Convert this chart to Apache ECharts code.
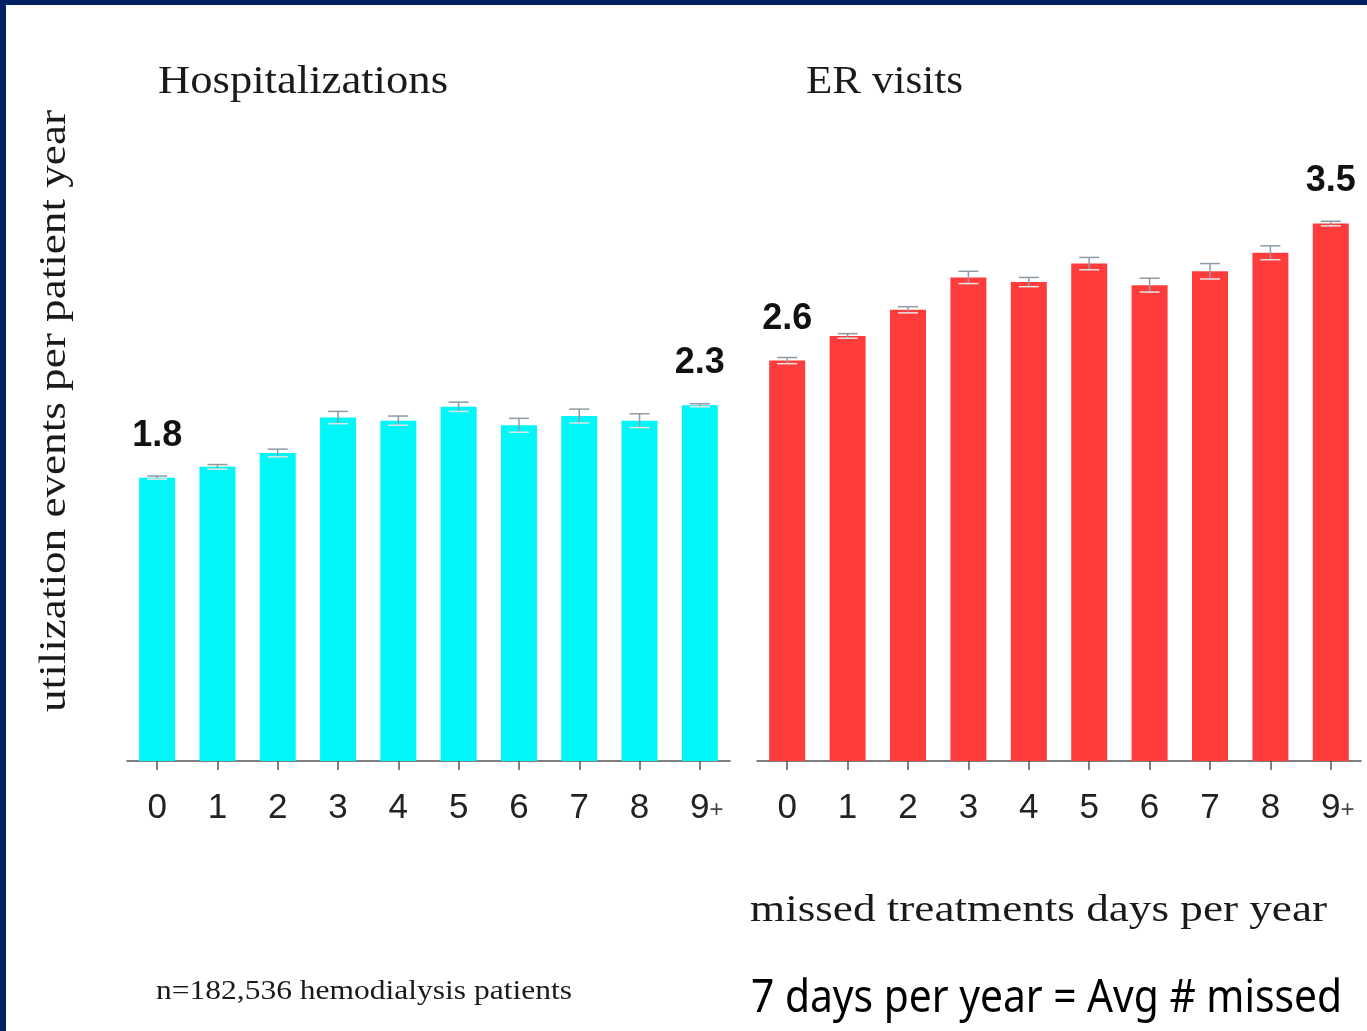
<!DOCTYPE html>
<html>
<head>
<meta charset="utf-8">
<title>Missed treatments and utilization</title>
<script src="https://cdn.jsdelivr.net/npm/echarts@6/dist/echarts.min.js"></script>
<style>
  html, body { margin: 0; padding: 0; background: #fff; }
  #chart { position: absolute; left: 0; top: 0; width: 1367px; height: 1031px; }
  .frame-top { position: absolute; left: 0; top: 0; width: 1367px; height: 5px; background: #022163; }
  .frame-left { position: absolute; left: 0; top: 0; width: 6px; height: 1031px; background: #022163; }
</style>
</head>
<body>
<div id="chart"></div>
<div class="frame-top"></div>
<div class="frame-left"></div>
<script>
// missed treatment days per year
const categories = ['0', '1', '2', '3', '4', '5', '6', '7', '8', '9+']

// events per patient year
const hospValues = [1.84, 1.91, 2.00, 2.23, 2.21, 2.30, 2.18, 2.24, 2.21, 2.31]
const hospErrors = [0.01, 0.015, 0.025, 0.04, 0.03, 0.03, 0.045, 0.045, 0.045, 0.01]
const erValues = [2.60, 2.76, 2.93, 3.14, 3.11, 3.23, 3.09, 3.18, 3.30, 3.49]
const erErrors = [0.02, 0.015, 0.02, 0.04, 0.03, 0.04, 0.045, 0.05, 0.045, 0.015]

// only first and last bar get a value label
const labelledBars = [0, 9]

const chart = echarts.init(document.getElementById('chart'))

// measure text so serif captions can be stretched to the reference width
const ctx = document.createElement('canvas').getContext('2d')
const fitScale = (text, size, family, weight, target) => {
  ctx.font = `${weight} ${size}px ${family}`
  return target / ctx.measureText(text).width
}

const SERIF = 'Liberation Serif'

const serifText = (text, x, y, size, target, extra = {}) => ({
  type: 'text',
  x, y,
  scaleX: fitScale(text, size, SERIF, 'normal', target),
  style: {
    text,
    fontFamily: SERIF,
    fontSize: size,
    fill: '#1a1a1a',
    textAlign: 'left',
    textVerticalAlign: 'middle'
  },
  ...extra
})

const barData = (values) => values.map((v, i) =>
  labelledBars.includes(i) ? { value: v, label: { show: true } } : v
)

const errData = (values, errs) => values.map((v, i) => [i, v, errs[i]])

const renderError = (params, api) => {
  const idx = api.value(0)
  const v = api.value(1)
  const e = api.value(2)
  const hi = api.coord([idx, v + e])
  const lo = api.coord([idx, v - e])
  const hw = 10
  const style = { stroke: '#8f9aa3', lineWidth: 1.5 }
  return {
    type: 'group',
    children: [
      { type: 'line', shape: { x1: hi[0], y1: hi[1], x2: lo[0], y2: lo[1] }, style },
      { type: 'line', shape: { x1: hi[0] - hw, y1: hi[1], x2: hi[0] + hw, y2: hi[1] }, style },
      { type: 'line', shape: { x1: lo[0] - hw, y1: lo[1], x2: lo[0] + hw, y2: lo[1] }, style: { stroke: '#e3e3e3', lineWidth: 1.5 } }
    ]
  }
}

const xAxisBase = (gridIndex) => ({
  type: 'category',
  gridIndex,
  data: categories,
  axisLine: { lineStyle: { color: '#555', width: 1.5 } },
  axisTick: { show: true, interval: 0, alignWithLabel: true, length: 9, lineStyle: { color: '#555', width: 1.5 } },
  axisLabel: {
    interval: 0,
    margin: 30,
    color: '#222',
    fontSize: 35,
    fontFamily: 'Liberation Sans',
    // keep the 9 on its tick, the small plus hangs to the right
    formatter: (val) => val === '9+' ? '{n|9}{p|+}' : val,
    rich: {
      n: { fontSize: 35, fontFamily: 'Liberation Sans', color: '#222', padding: [0, 0, 0, 14] },
      p: { fontSize: 24, fontFamily: 'Liberation Sans', color: '#444', padding: [4, 0, 0, 0] }
    }
  }
})

const yAxisBase = (gridIndex) => ({
  type: 'value',
  gridIndex,
  min: 0,
  max: 4,
  show: false
})

const valueLabel = {
  show: false,
  position: 'top',
  distance: 24,
  fontSize: 36,
  fontWeight: 'bold',
  fontFamily: 'Liberation Sans',
  color: '#111',
  formatter: (p) => p.value.toFixed(1)
}

const option = {
  backgroundColor: '#fff',
  animation: false,
  grid: [
    { left: 127, width: 603, top: 145, height: 616 },
    { left: 757, width: 604, top: 145, height: 616 }
  ],
  xAxis: [xAxisBase(0), xAxisBase(1)],
  yAxis: [yAxisBase(0), yAxisBase(1)],
  series: [
    {
      name: 'Hospitalizations',
      type: 'bar',
      xAxisIndex: 0,
      yAxisIndex: 0,
      barWidth: 36,
      data: barData(hospValues),
      itemStyle: { color: '#00f7f7' },
      label: valueLabel
    },
    {
      name: 'ER visits',
      type: 'bar',
      xAxisIndex: 1,
      yAxisIndex: 1,
      barWidth: 36,
      data: barData(erValues),
      itemStyle: { color: '#ff3c3c' },
      label: valueLabel
    },
    {
      type: 'custom',
      xAxisIndex: 0,
      yAxisIndex: 0,
      z: 5,
      renderItem: renderError,
      data: errData(hospValues, hospErrors)
    },
    {
      type: 'custom',
      xAxisIndex: 1,
      yAxisIndex: 1,
      z: 5,
      renderItem: renderError,
      data: errData(erValues, erErrors)
    }
  ],
  graphic: [
    serifText('Hospitalizations', 158, 82, 40, 290),
    serifText('ER visits', 806, 82, 40, 157),
    serifText('utilization events per patient year', 55, 712, 38, 602, { rotation: Math.PI / 2 }),
    serifText('missed treatments days per year', 750, 911, 38, 577),
    serifText('n=182,536 hemodialysis patients', 156, 992, 28, 416),
    {
      type: 'text',
      x: 751,
      y: 999,
      scaleX: fitScale('7 days per year = Avg # missed', 46, 'Noto Sans', 'normal', 591),
      style: {
        text: '7 days per year = Avg # missed',
        fontFamily: 'Noto Sans',
        fontSize: 46,
        fill: '#000',
        textAlign: 'left',
        textVerticalAlign: 'middle'
      }
    }
  ]
}

chart.setOption(option)
</script>
</body>
</html>
